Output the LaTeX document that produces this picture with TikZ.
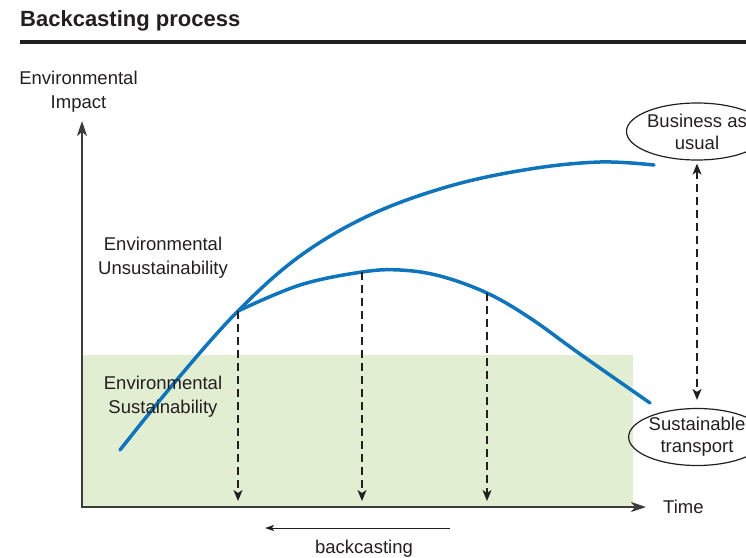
\documentclass[tikz,border=0pt]{standalone}
\usepackage{fontspec}
\setmainfont{Liberation Sans}
\usetikzlibrary{arrows.meta,shapes.geometric}
\definecolor{inkdark}{RGB}{35,31,32}
\definecolor{axisgray}{RGB}{60,60,60}
\definecolor{curveblue}{RGB}{14,116,188}
\definecolor{sustgreen}{RGB}{226,238,210}
\begin{document}
\begin{tikzpicture}[x=1pt,y=-1pt,
  txt/.style={inner sep=0pt, text=inkdark, font=\fontsize{18.5}{24}\selectfont, align=center},
  axisline/.style={draw=axisgray, line width=2pt,
    {Stealth[length=15pt,width=10pt,inset=4pt]}-{Stealth[length=15pt,width=10pt,inset=4pt]}},
  impact/.style={draw=curveblue, line width=3.5pt, line cap=round},
  drop/.style={draw=inkdark, line width=1.4pt, dash pattern=on 8pt off 5pt,
    -{Stealth[length=11pt,width=9pt,inset=3pt]}},
  scenario/.style={ellipse, draw=inkdark, line width=1.2pt, minimum width=128pt,
    minimum height=57pt, inner sep=0pt, text=inkdark,
    font=\fontsize{18.5}{22}\selectfont, align=center},
]
\useasboundingbox (0,0) rectangle (746,557);

% heading and rule
\node[anchor=base west, inner sep=0pt, text=inkdark,
  font=\bfseries\fontsize{22}{26}\selectfont] (title) at (20,26) {Backcasting process};
\coordinate (ruleL) at (20,42);
\coordinate (ruleR) at (746,42);
\draw[inkdark, line width=4pt] (ruleL) -- (ruleR);

% zone of environmental sustainability
\fill[sustgreen] (82,355) rectangle (633,507);

% axes
\coordinate (origin) at (82,507);
\coordinate (ytop) at (82,121);
\coordinate (xend) at (646,507);
\draw[axisline] (ytop) -- (origin) -- (xend);

% points on the curves
\coordinate (split) at (238,311);
\coordinate (m2) at (362,272);
\coordinate (m3) at (487,293);

% business-as-usual curve
\draw[impact] plot[smooth, tension=0.6] coordinates
  {(120,450) (175,382) (238,311) (300,256) (370,215) (450,186) (530,169) (600,162) (654,165)};
% sustainable path
\draw[impact] plot[smooth, tension=0.6] coordinates
  {(238,311) (300,285) (362,272) (400,270) (440,276) (487,293) (530,318) (580,354) (650,403)};

% backcasting drops to the time axis
\coordinate (d1) at (238,501);
\coordinate (d2) at (362,501);
\coordinate (d3) at (487,501);
\draw[drop] (split) -- (d1);
\draw[drop] (m2) -- (d2);
\draw[drop] (m3) -- (d3);

% scenarios
\node[scenario] (bau) at (697,131.5) {Business as\\usual};
\node[scenario] (sus) at (697,437) {Sustainable\\transport};
\draw[draw=inkdark, line width=1.4pt, dash pattern=on 8pt off 5pt,
  {Stealth[length=11pt,width=9pt,inset=3pt]}-{Stealth[length=11pt,width=9pt,inset=3pt]},
  shorten <=3pt, shorten >=8pt] (bau) -- (sus);

% labels (base anchor sits on the last line)
\node[txt, anchor=base] (yl) at (78.5,108) {Environmental\\Impact};
\node[txt, anchor=base west] (xl) at (663,513) {Time};
\node[txt, anchor=base] (unsus) at (163,274) {Environmental\\Unsustainability};
\node[txt, anchor=base] (sust) at (163,413) {Environmental\\Sustainability};

% backcasting direction
\coordinate (bcR) at (450,528);
\coordinate (bcL) at (265,528);
\draw[inkdark, line width=1pt, -{Stealth[length=9pt,width=6pt,inset=2pt]}] (bcR) -- (bcL);
\node[txt, anchor=base] (bc) at (364,553) {backcasting};
\end{tikzpicture}
\end{document}
